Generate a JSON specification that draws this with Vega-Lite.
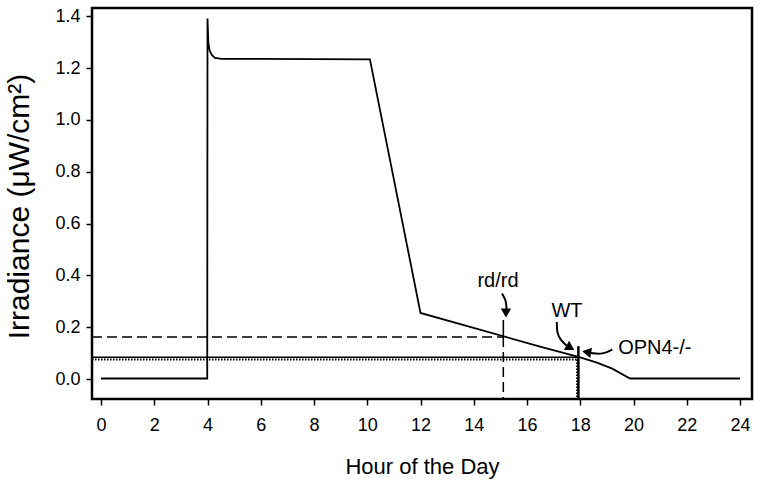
{
  "$schema": "https://vega.github.io/schema/vega-lite/v6.json",
  "width": 660,
  "height": 391,
  "autosize": {"type": "none"},
  "padding": {"left": 92, "top": 8, "right": 10, "bottom": 88},
  "background": "white",
  "config": {
    "font": "Liberation Sans",
    "view": {"stroke": "black", "strokeWidth": 2.5},
    "axis": {"grid": false, "domain": false, "tickColor": "black", "labelColor": "black", "titleColor": "black", "titleFontWeight": "normal"}
  },
  "datasets": {
    "curve": [
      {"i": 0, "hour": 0, "irr": 0.002},
      {"i": 1, "hour": 3.99, "irr": 0.002},
      {"i": 2, "hour": 4.0, "irr": 1.392},
      {"i": 3, "hour": 4.01, "irr": 1.36},
      {"i": 4, "hour": 4.03, "irr": 1.3},
      {"i": 5, "hour": 4.08, "irr": 1.268},
      {"i": 6, "hour": 4.16, "irr": 1.251},
      {"i": 7, "hour": 4.28, "irr": 1.24},
      {"i": 8, "hour": 4.53, "irr": 1.236},
      {"i": 9, "hour": 6, "irr": 1.236},
      {"i": 10, "hour": 8, "irr": 1.235},
      {"i": 11, "hour": 10.1, "irr": 1.234},
      {"i": 12, "hour": 12.0, "irr": 0.255},
      {"i": 13, "hour": 16.49, "irr": 0.125},
      {"i": 14, "hour": 17.93, "irr": 0.085},
      {"i": 15, "hour": 18.6, "irr": 0.064},
      {"i": 16, "hour": 19.2, "irr": 0.04},
      {"i": 17, "hour": 19.87, "irr": 0.002},
      {"i": 18, "hour": 24, "irr": 0.002}
    ],
    "dashed": [
      {"x1": -0.338, "x2": 15.11, "y1": 0.162, "y2": 0.162},
      {"x1": 15.11, "x2": 15.11, "y1": 0.162, "y2": -0.08}
    ],
    "solid": [
      {"x1": -0.338, "x2": 17.93, "y1": 0.084, "y2": 0.084},
      {"x1": 15.11, "x2": 15.11, "y1": 0.228, "y2": 0.162}
    ],
    "solidThick": [
      {"x1": 17.93, "x2": 17.93, "y1": 0.127, "y2": -0.08}
    ],
    "dotted": [
      {"x1": -0.338, "x2": 17.9, "y1": 0.075, "y2": 0.075},
      {"x1": 17.88, "x2": 17.88, "y1": 0.075, "y2": -0.08}
    ],
    "labels": [
      {"hour": 14.91, "irr": 0.378, "text": "rd/rd"},
      {"hour": 17.5, "irr": 0.262, "text": "WT"},
      {"hour": 20.8, "irr": 0.12, "text": "OPN4-/-"}
    ],
    "shafts": [
      {"arrow": "rd", "i": 0, "hour": 15.06, "irr": 0.33},
      {"arrow": "rd", "i": 1, "hour": 15.22, "irr": 0.302},
      {"arrow": "rd", "i": 2, "hour": 15.23, "irr": 0.268},
      {"arrow": "wt", "i": 0, "hour": 17.12, "irr": 0.22},
      {"arrow": "wt", "i": 1, "hour": 17.12, "irr": 0.178},
      {"arrow": "wt", "i": 2, "hour": 17.27, "irr": 0.148},
      {"arrow": "wt", "i": 3, "hour": 17.5, "irr": 0.128},
      {"arrow": "opn", "i": 0, "hour": 19.2, "irr": 0.114},
      {"arrow": "opn", "i": 1, "hour": 18.85, "irr": 0.095},
      {"arrow": "opn", "i": 2, "hour": 18.4, "irr": 0.1}
    ],
    "heads": [
      {"hour": 15.21, "irr": 0.255, "shape": "triangle-down", "angle": 0},
      {"hour": 17.63, "irr": 0.121, "shape": "triangle-right", "angle": 30},
      {"hour": 18.24, "irr": 0.104, "shape": "triangle-left", "angle": 10}
    ]
  },
  "layer": [
    {
      "data": {"name": "dashed"},
      "mark": {"type": "rule", "color": "black", "strokeWidth": 1.5, "strokeDash": [10, 5]},
      "encoding": {
        "x": {"field": "x1", "type": "quantitative", "scale": {"domain": [-0.338, 24.45], "nice": false, "zero": false},
          "axis": {"values": [0,1,2,3,4,5,6,7,8,9,10,11,12,13,14,15,16,17,18,19,20,21,22,23,24], "labelExpr": "datum.value % 2 === 0 ? datum.label : ''", "tickSize": 6, "tickWidth": 1.5, "labelFontSize": 18, "labelPadding": 11, "labelFlush": false, "labelOverlap": false, "title": "Hour of the Day", "titleFontSize": 22, "titleBaseline": "alphabetic", "titleY": 74}},
        "x2": {"field": "x2"},
        "y": {"field": "y1", "type": "quantitative", "scale": {"domain": [-0.0772, 1.4324], "nice": false, "zero": false},
          "axis": {"values": [0,0.1,0.2,0.3,0.4,0.5,0.6,0.7,0.8,0.9,1.0,1.1,1.2,1.3,1.4], "labelExpr": "round(datum.value*10) % 2 === 0 ? format(datum.value, '.1f') : ''", "tickSize": 6, "tickWidth": 1.5, "labelFontSize": 18, "labelPadding": 6, "labelOverlap": false, "title": "Irradiance (μW/cm²)", "titleFontSize": 30, "titleBaseline": "alphabetic", "titleX": -64, "titleY": 198}},
        "y2": {"field": "y2"}
      }
    },
    {
      "data": {"name": "solid"},
      "mark": {"type": "rule", "color": "black", "strokeWidth": 1.6},
      "encoding": {
        "x": {"field": "x1", "type": "quantitative"},
        "x2": {"field": "x2"},
        "y": {"field": "y1", "type": "quantitative"},
        "y2": {"field": "y2"}
      }
    },
    {
      "data": {"name": "solidThick"},
      "mark": {"type": "rule", "color": "black", "strokeWidth": 2.5},
      "encoding": {
        "x": {"field": "x1", "type": "quantitative"},
        "x2": {"field": "x2"},
        "y": {"field": "y1", "type": "quantitative"},
        "y2": {"field": "y2"}
      }
    },
    {
      "data": {"name": "dotted"},
      "mark": {"type": "rule", "color": "black", "strokeWidth": 2, "strokeDash": [1.5, 1.5]},
      "encoding": {
        "x": {"field": "x1", "type": "quantitative"},
        "x2": {"field": "x2"},
        "y": {"field": "y1", "type": "quantitative"},
        "y2": {"field": "y2"}
      }
    },
    {
      "data": {"name": "curve"},
      "mark": {"type": "line", "color": "black", "strokeWidth": 1.8},
      "encoding": {
        "x": {"field": "hour", "type": "quantitative"},
        "y": {"field": "irr", "type": "quantitative"},
        "order": {"field": "i", "type": "quantitative"}
      }
    },
    {
      "data": {"name": "shafts"},
      "mark": {"type": "line", "color": "black", "strokeWidth": 2, "interpolate": "basis"},
      "encoding": {
        "x": {"field": "hour", "type": "quantitative"},
        "y": {"field": "irr", "type": "quantitative"},
        "detail": {"field": "arrow", "type": "nominal"},
        "order": {"field": "i", "type": "quantitative"}
      }
    },
    {
      "data": {"name": "heads"},
      "mark": {"type": "point", "filled": true, "color": "black", "opacity": 1, "size": 110},
      "encoding": {
        "x": {"field": "hour", "type": "quantitative"},
        "y": {"field": "irr", "type": "quantitative"},
        "shape": {"field": "shape", "type": "nominal", "scale": null, "legend": null},
        "angle": {"field": "angle", "type": "quantitative", "scale": null}
      }
    },
    {
      "data": {"name": "labels"},
      "mark": {"type": "text", "color": "black", "fontSize": 20, "align": "center", "baseline": "middle"},
      "encoding": {
        "x": {"field": "hour", "type": "quantitative"},
        "y": {"field": "irr", "type": "quantitative"},
        "text": {"field": "text"}
      }
    }
  ]
}
